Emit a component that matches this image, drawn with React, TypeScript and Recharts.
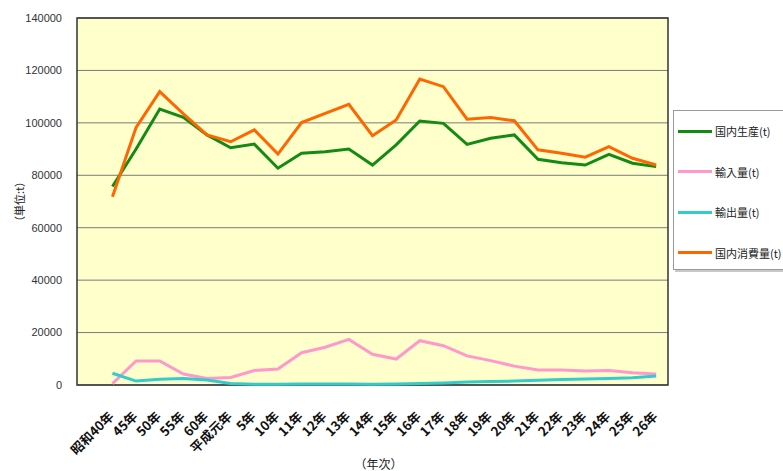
import {
  LineChart,
  Line,
  XAxis,
  YAxis,
  CartesianGrid,
  ReferenceArea,
} from "recharts";

// 年次ごとの国内生産・輸入・輸出・国内消費量 (単位: t)

const categories = [
  "昭和40年", "45年", "50年", "55年", "60年", "平成元年", "5年", "10年",
  "11年", "12年", "13年", "14年", "15年", "16年", "17年", "18年",
  "19年", "20年", "21年", "22年", "23年", "24年", "25年", "26年",
];

const production = [
  75700, 90000, 105300, 102100, 95400, 90500, 91900, 82700,
  88400, 89000, 90000, 83900, 91600, 100700, 99800, 91800,
  94100, 95400, 86100, 84800, 83900, 88000, 84600, 83300,
];

const imports = [
  500, 9200, 9200, 4200, 2500, 2900, 5500, 6100,
  12300, 14400, 17400, 11700, 9900, 16900, 15000, 11100,
  9300, 7200, 5700, 5700, 5300, 5500, 4700, 4200,
];

const exports = [
  4500, 1500, 2200, 2500, 1900, 600, 300, 300,
  400, 400, 400, 300, 400, 600, 800, 1100,
  1300, 1500, 1800, 2100, 2300, 2500, 2800, 3400,
];

const consumption = [
  71800, 98300, 111900, 103400, 95400, 92800, 97300, 88100,
  100100, 103600, 107100, 95100, 101100, 116700, 113800, 101400,
  102000, 100800, 89700, 88400, 86900, 90900, 86500, 83900,
];

const yTicks = [0, 20000, 40000, 60000, 80000, 100000, 120000, 140000];

const SERIES = [
  { key: "production", label: "国内生産(t)", color: "#138a13" },
  { key: "imports", label: "輸入量(t)", color: "#ff99cc" },
  { key: "exports", label: "輸出量(t)", color: "#33cccc" },
  { key: "consumption", label: "国内消費量(t)", color: "#ff6600" },
];

// one empty slot on the left, then one slot per year
const SLOTS = categories.length + 1;

const data = categories.map((name, i) => ({
  pos: i + 1.5,
  name,
  production: production[i],
  imports: imports[i],
  exports: exports[i],
  consumption: consumption[i],
}));

const centerTicks = data.map((d) => d.pos);
const edgeTicks = categories.map((_, i) => i + 1);

const JP = '"Noto Sans CJK JP", "Noto Sans", sans-serif';

function YearTick({ x, y, payload }: any) {
  const idx = Math.round(payload.value - 1.5);
  return (
    <g transform={`translate(${x - 1},${y + 21})`}>
      <text
        textAnchor="end"
        transform="rotate(-45)"
        dy="0.35em"
        fontSize={13}
        fontWeight="bold"
        fill="#111"
        fontFamily={JP}
      >
        {categories[idx]}
      </text>
    </g>
  );
}

function LegendBox() {
  return (
    <div
      style={{
        position: "absolute",
        left: 673,
        top: 110,
        width: 130,
        height: 158,
        background: "#fff",
        border: "1px solid #999",
        boxShadow: "2px 2px 0 #c8c8c8",
      }}
    >
      {SERIES.map((s, i) => (
        <div
          key={s.key}
          style={{
            position: "absolute",
            left: 4,
            top: 20 + i * 40.6 - 8,
            height: 16,
            display: "flex",
            alignItems: "center",
            whiteSpace: "nowrap",
          }}
        >
          <span
            style={{
              display: "inline-block",
              width: 34,
              height: 3,
              background: s.color,
              marginRight: 3,
            }}
          />
          <span style={{ fontSize: 11, color: "#222", fontFamily: JP }}>
            {s.label}
          </span>
        </div>
      ))}
    </div>
  );
}

export default function App() {
  return (
    <div
      style={{
        position: "absolute",
        left: 0,
        top: 0,
        width: 783,
        height: 471,
        overflow: "hidden",
        background: "#fff",
        fontFamily: JP,
      }}
    >
      <LineChart
        width={783}
        height={471}
        data={data}
        margin={{ top: 18, right: 115, bottom: 0, left: 0 }}
      >
        <CartesianGrid
          horizontal
          vertical={false}
          stroke="#7a7a7a"
          fill="#ffffcc"
        />
        <XAxis
          xAxisId="edge"
          type="number"
          domain={[0, SLOTS]}
          ticks={edgeTicks}
          height={0}
          mirror
          tick={false}
          axisLine={false}
          tickSize={4}
          tickLine={{ stroke: "#333" }}
        />
        <XAxis
          dataKey="pos"
          type="number"
          domain={[0, SLOTS]}
          ticks={centerTicks}
          interval={0}
          height={86}
          axisLine={false}
          tickLine={false}
          tick={<YearTick />}
          label={{
            value: "（年次）",
            position: "insideBottom",
            offset: 2,
            dx: 6,
            fontSize: 12,
            fill: "#222",
            fontFamily: JP,
          }}
        />
        <YAxis
          domain={[0, 140000]}
          ticks={yTicks}
          width={77}
          axisLine={false}
          tickLine={false}
          tickMargin={9}
          tick={{ fontSize: 11, fill: "#333", fontFamily: '"Liberation Sans", Arial, sans-serif' }}
          label={{
            value: "（単位:t）",
            angle: -90,
            position: "insideLeft",
            offset: 20,
            style: { textAnchor: "middle" },
            fontSize: 11,
            fill: "#222",
            fontFamily: JP,
          }}
        />
        <ReferenceArea
          x1={0}
          x2={SLOTS}
          y1={0}
          y2={140000}
          fill="none"
          stroke="#333"
          strokeWidth={1.5}
        />
        {SERIES.map((s) => (
          <Line
            key={s.key}
            type="linear"
            dataKey={s.key}
            stroke={s.color}
            strokeWidth={3}
            dot={false}
            isAnimationActive={false}
          />
        ))}
      </LineChart>
      <LegendBox />
    </div>
  );
}
